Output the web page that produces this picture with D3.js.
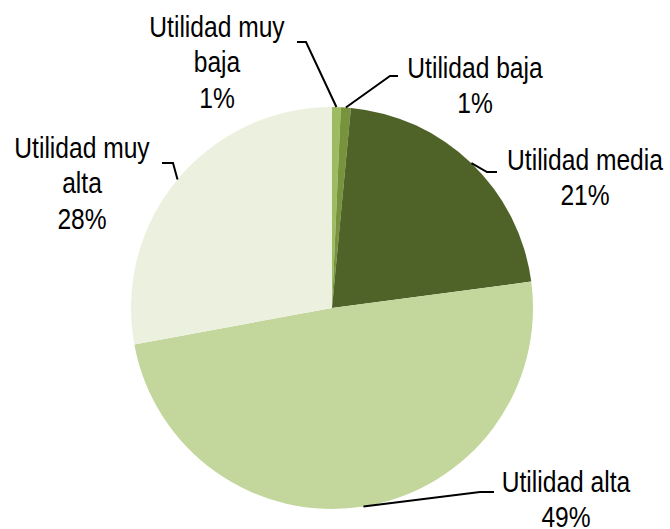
<!DOCTYPE html>
<html>
<head>
<meta charset="utf-8">
<script src="https://cdn.jsdelivr.net/npm/d3@7"></script>
<style>
  body { margin: 0; background: #fff; }
  text { font-family: "Liberation Sans", Arial, sans-serif; }
</style>
</head>
<body>
<div id="chart"></div>
<script>
// DATA ------------------------------------------------------------------
const categories = ['Utilidad muy baja', 'Utilidad baja', 'Utilidad media', 'Utilidad alta', 'Utilidad muy alta'];
const values = [0.7, 0.8, 21.4, 49.2, 27.9];
const colors = ['#9dbb61', '#77933c', '#4f6228', '#c3d69b', '#ebf1de'];
// label lines as drawn in the chart (text split into lines)
const labelLines = [
    ['Utilidad muy', 'baja'],
    ['Utilidad baja'],
    ['Utilidad media'],
    ['Utilidad alta'],
    ['Utilidad muy', 'alta']
];

// CHART INIT ------------------------------------------------------------
const width = 670, height = 529;
const cx = 332, cy = 308, radius = 201;

const svg = d3.select('#chart')
    .append('svg')
    .attr('width', width)
    .attr('height', height);

const g = svg.append('g')
    .attr('transform', 'translate(' + cx + ',' + cy + ')');

const pie = d3.pie().sort(null).value(d => d.value);
const arc = d3.arc().innerRadius(0).outerRadius(radius);
const edgeArc = d3.arc().innerRadius(radius).outerRadius(radius);

const data = categories.map((c, i) => ({name: c, value: values[i], color: colors[i], lines: labelLines[i]}));
const arcs = pie(data);

g.selectAll('.slice')
    .data(arcs)
    .enter()
    .append('path')
    .attr('class', 'slice')
    .attr('fill', d => d.data.color)
    .attr('d', arc);

// label layout (relative to pie center): elbow, line end, text center, first baseline
const layout = [
    {elbow: [-26, -266], end: [-35, -266], tx: -115, ty: -271},
    {elbow: [58, -232], end: [66, -232], tx: 143, ty: -230},
    {elbow: [155, -136], end: [165, -136], tx: 253, ty: -138},
    {elbow: [148, 184], end: [162, 184], tx: 234, ty: 184},
    {elbow: [-159, -145], end: [-170, -145], tx: -250, ty: -150}
];

const lineHeight = 35.5;
const narrow = 0.82; // condensed look

arcs.forEach((d, i) => {
    const L = layout[i];
    const p = edgeArc.centroid(d);
    g.append('polyline')
        .attr('points', [p, L.elbow, L.end].map(q => q.join(',')).join(' '))
        .attr('fill', 'none')
        .attr('stroke', '#000')
        .attr('stroke-width', 2);

    const lines = d.data.lines.concat([Math.round(d.data.value) + '%']);
    const t = g.append('text')
        .attr('transform', 'translate(' + L.tx + ',' + L.ty + ') scale(' + narrow + ',1)')
        .attr('text-anchor', 'middle')
        .attr('font-size', 30)
        .attr('fill', '#000');
    lines.forEach((s, k) => {
        t.append('tspan')
            .attr('x', 0)
            .attr('y', k * lineHeight)
            .text(s);
    });
});
</script>
</body>
</html>
